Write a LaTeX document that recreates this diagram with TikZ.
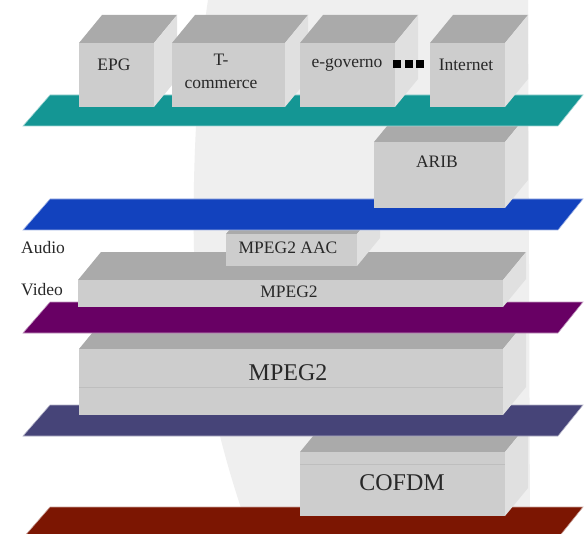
\documentclass[tikz,border=0pt]{standalone}
\usepackage{fontspec}
\setmainfont{Liberation Serif}
\definecolor{tealc}{RGB}{20,150,148}
\definecolor{bluec}{RGB}{18,66,190}
\definecolor{purplec}{RGB}{104,0,100}
\definecolor{navyc}{RGB}{70,68,120}
\definecolor{redc}{RGB}{124,22,2}
\definecolor{frontgray}{RGB}{205,205,205}
\definecolor{topgray}{RGB}{170,170,170}
\definecolor{sidegray}{RGB}{224,224,224}
\definecolor{seamgray}{RGB}{190,190,190}
\definecolor{wmgray}{RGB}{239,239,239}
\definecolor{txt}{RGB}{40,40,40}
\tikzset{
  lbl/.style={text=txt, font=\fontsize{17.5}{21}\selectfont, inner sep=0pt},
  biglbl/.style={text=txt, font=\fontsize{24}{28}\selectfont, inner sep=0pt},
  seam/.style={draw=seamgray, line width=0.5pt},
}
% cube: front top-left (x1,y1), front bottom-right (x2,y2), depth (23,-28)
\newcommand\cubeblock[4]{%
  \fill[topgray] (#1,#2) -- ({#1+23},{#2-28}) -- ({#3+23},{#2-28}) -- (#3,#2) -- cycle;
  \fill[sidegray] (#3,#2) -- ({#3+23},{#2-28}) -- ({#3+23},{#4-28}) -- (#3,#4) -- cycle;
  \fill[frontgray] (#1,#2) rectangle (#3,#4);
}
\newcommand\platform[2]{%
  \fill[#2, draw=#2!40!white, line width=0.6pt] (23,{#1+31}) -- (558,{#1+31}) -- (583,#1) -- (50,#1) -- cycle;
}
\begin{document}
\begin{tikzpicture}[x=1pt,y=-1pt]
\useasboundingbox (0,0) rectangle (585,534);
\fill[white] (0,0) rectangle (585,534);
% watermark
\fill[wmgray] (208,0) .. controls (196,80) and (190,200) .. (196,300) .. controls (205,380) and (220,450) .. (250,534) -- (530,534) -- (528,0) -- cycle;
% layers, bottom to top
\platform{507}{redc}
\cubeblock{300}{452}{505}{516}
\draw[seam] (300,464) -- (505,464);
\node[biglbl] (cofdm) at (402,483) {COFDM};
\platform{405}{navyc}
\cubeblock{79}{349}{503}{415}
\draw[seam] (79,387) -- (503,387);
\node[biglbl] (mpegbig) at (288,373) {MPEG2};
\platform{302}{purplec}
\cubeblock{78}{280}{503}{307}
\node[lbl] (mpegv) at (289,292) {MPEG2};
\cubeblock{226}{234}{357}{266}
\node[lbl] (aac) at (288,248) {MPEG2 AAC};
\node[lbl, anchor=west] (audio) at (21,248) {Audio};
\node[lbl, anchor=west] (video) at (21,290) {Video};
\platform{199}{bluec}
\cubeblock{374}{142}{505}{208}
\node[lbl] (arib) at (437,162) {ARIB};
\platform{95}{tealc}
\cubeblock{79}{43}{154}{107}
\node[lbl] (epg) at (114,65) {EPG};
\cubeblock{172}{43}{285}{107}
\node[lbl, align=center, font=\fontsize{17.5}{23}\selectfont] (tcom) at (221,71) {T-\\commerce};
\cubeblock{300}{43}{395}{107}
\node[lbl] (egov) at (347,65) {e-governo};
\foreach \xx in {393,405,416} \fill[black] (\xx,60) rectangle ++(8,8);
\cubeblock{430}{43}{505}{107}
\node[lbl] (inet) at (466,65) {Internet};
\end{tikzpicture}
\end{document}
